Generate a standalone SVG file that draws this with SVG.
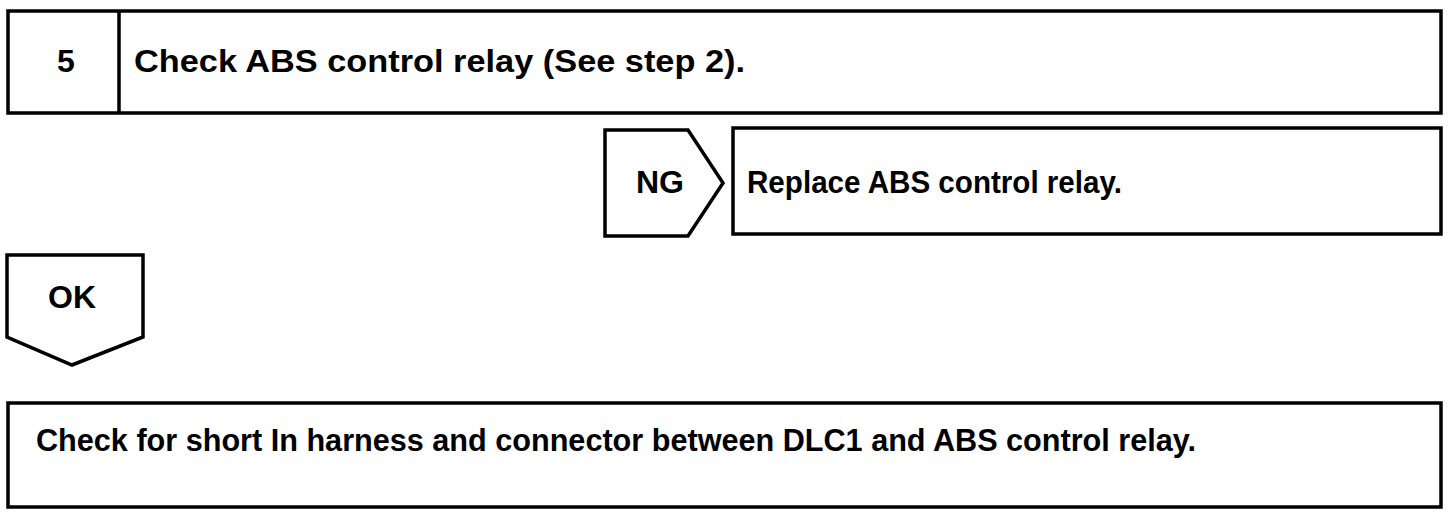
<svg xmlns="http://www.w3.org/2000/svg" width="1456" height="516" viewBox="0 0 1456 516">
<style>
.box{fill:#fff;stroke:#000;stroke-width:3.5}
.t{font-family:"Liberation Sans",Arial,sans-serif;font-weight:bold;font-size:32px;fill:#000}
</style>
<rect width="1456" height="516" fill="#fff"/>
<g id="step5">
<rect class="box" x="8" y="11" width="1433" height="102"/>
<line x1="119" y1="11" x2="119" y2="113" stroke="#000" stroke-width="3.5"/>
<text class="t" x="66" y="72" text-anchor="middle">5</text>
<text class="t" x="134" y="72" textLength="611" lengthAdjust="spacingAndGlyphs">Check ABS control relay (See step 2).</text>
</g>
<g id="connectors">
<g id="ng">
<polygon class="box" points="605,130 688,130 723,183 688,236 605,236"/>
<text class="t" x="660" y="193" text-anchor="middle">NG</text>
</g>
<g id="ok">
<polygon class="box" points="7,255 143,255 143,337 72,365 7,337"/>
<text class="t" x="72" y="308" text-anchor="middle">OK</text>
</g>
</g>
<g id="replace">
<rect class="box" x="733" y="128" width="708" height="106"/>
<text class="t" x="747" y="193" textLength="375" lengthAdjust="spacingAndGlyphs">Replace ABS control relay.</text>
</g>
<g id="check-short">
<rect class="box" x="8" y="403" width="1433" height="104"/>
<text class="t" x="36" y="451" textLength="1160" lengthAdjust="spacingAndGlyphs">Check for short In harness and connector between DLC1 and ABS control relay.</text>
</g>
</svg>
